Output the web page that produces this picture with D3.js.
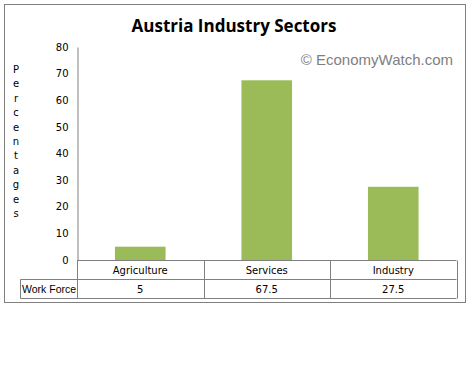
<!DOCTYPE html>
<html>
<head>
<meta charset="utf-8">
<script src="https://cdn.jsdelivr.net/npm/d3@7"></script>
<style>
  body { margin: 0; background: #fff; }
  text { font-family: "DejaVu Sans", sans-serif; }
</style>
</head>
<body>
<div id="chart"></div>
<script>
// Chart data
const categories = ["Agriculture", "Services", "Industry"];
const workForce = [5, 67.5, 27.5];
const yTicks = [0, 10, 20, 30, 40, 50, 60, 70, 80];
const seriesName = "Work Force";
const yLabel = "Percentages";

const W = 471, H = 374;
const svg = d3.select("#chart").append("svg")
    .attr("width", W)
    .attr("height", H);

// Outer frame
svg.append("rect")
    .attr("x", 4.5).attr("y", 4.5)
    .attr("width", 461).attr("height", 298)
    .attr("fill", "#fff")
    .attr("stroke", "#808080");

// Title
svg.append("text")
    .attr("x", 234).attr("y", 32)
    .attr("text-anchor", "middle")
    .style("font-family", "'Open Sans', sans-serif")
    .style("font-weight", "bold")
    .style("font-size", "17px")
    .text("Austria Industry Sectors");

// Watermark
svg.append("text")
    .attr("x", 453).attr("y", 65)
    .attr("text-anchor", "end")
    .style("font-family", "'Liberation Sans', sans-serif")
    .style("font-size", "15px")
    .attr("fill", "#7f7f7f")
    .text("© EconomyWatch.com");

// Scales
const plotLeft = 77, plotRight = 456.5;
const x = d3.scaleBand()
    .domain(categories)
    .range([plotLeft, plotRight])
    .paddingInner(0.6)
    .paddingOuter(0.3);

const cols = d3.scaleBand()
    .domain(categories)
    .range([plotLeft, plotRight]);

const y = d3.scaleLinear()
    .domain([0, 80])
    .range([260, 47]);

// Y axis
const yAxis = svg.append("g")
    .attr("transform", `translate(${plotLeft + 0.5},0)`)
    .call(d3.axisLeft(y).tickValues(yTicks).tickSize(0).tickPadding(9));
yAxis.select(".domain").attr("stroke", "#808080");
yAxis.selectAll("text")
    .style("font-size", "10px")
    .attr("fill", "#000");

// Y label: stacked letters
svg.append("g").selectAll("text")
    .data(yLabel.split(""))
    .enter()
    .append("text")
    .attr("x", 16)
    .attr("y", (d, i) => 73 + i * 14.4)
    .attr("text-anchor", "middle")
    .style("font-size", "10px")
    .text(d => d);

// Bars
svg.selectAll(".bar")
    .data(categories)
    .enter()
    .append("rect")
    .attr("class", "bar")
    .attr("x", d => x(d))
    .attr("y", (d, i) => y(workForce[i]))
    .attr("width", x.bandwidth())
    .attr("height", (d, i) => y(0) - y(workForce[i]))
    .attr("fill", "#9bbb59");

// Data table
const rowTop = 260.5, rowMid = 279.5, rowBot = 298.5, labelLeft = 20.5;
const grid = svg.append("g")
    .attr("stroke", "#808080")
    .attr("fill", "none");
grid.append("line").attr("x1", plotLeft).attr("x2", plotRight).attr("y1", rowTop).attr("y2", rowTop);
grid.append("line").attr("x1", labelLeft).attr("x2", plotRight).attr("y1", rowMid).attr("y2", rowMid);
grid.append("line").attr("x1", labelLeft).attr("x2", plotRight).attr("y1", rowBot).attr("y2", rowBot);
grid.append("line").attr("x1", labelLeft).attr("x2", labelLeft).attr("y1", rowMid).attr("y2", rowBot);
[plotLeft, ...categories.map(c => cols(c) + cols.bandwidth())].forEach(px => {
    const xx = Math.round(px) + 0.5;
    grid.append("line").attr("x1", xx).attr("x2", xx).attr("y1", rowTop).attr("y2", rowBot);
});

svg.selectAll(".cat")
    .data(categories)
    .enter()
    .append("text")
    .attr("class", "cat")
    .attr("x", d => cols(d) + cols.bandwidth() / 2)
    .attr("y", 274)
    .attr("text-anchor", "middle")
    .style("font-size", "10px")
    .text(d => d);

svg.selectAll(".val")
    .data(workForce)
    .enter()
    .append("text")
    .attr("class", "val")
    .attr("x", (d, i) => cols(categories[i]) + cols.bandwidth() / 2)
    .attr("y", 293)
    .attr("text-anchor", "middle")
    .style("font-size", "10px")
    .text(d => d);

svg.append("text")
    .attr("x", 22).attr("y", 293)
    .style("font-family", "'Liberation Sans', sans-serif")
    .style("font-size", "10.5px")
    .text(seriesName);
</script>
</body>
</html>
